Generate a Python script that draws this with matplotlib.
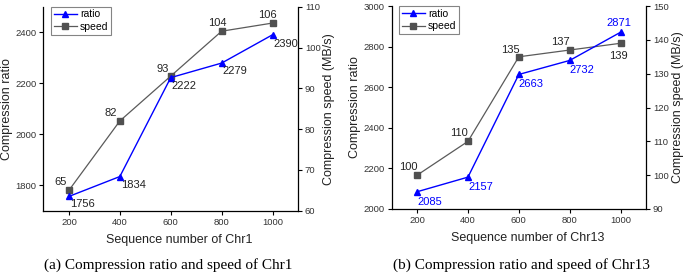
import matplotlib
matplotlib.use("Agg")
import matplotlib.pyplot as plt

plt.rcParams['font.family'] = ['Liberation Sans', 'DejaVu Sans']

x_vals = [200, 400, 600, 800, 1000]

# Panel (a) Chr1
ratio_chr1 = [1756, 1834, 2222, 2279, 2390]
speed_chr1 = [65, 82, 93, 104, 106]
# Panel (b) Chr13
ratio_chr13 = [2085, 2157, 2663, 2732, 2871]
speed_chr13 = [100, 110, 135, 137, 139]

xlabels = ["Sequence number of Chr1", "Sequence number of Chr13"]
captions = ["(a) Compression ratio and speed of Chr1",
            "(b) Compression ratio and speed of Chr13"]

BLUE = "#0000ff"
GRAY_LINE = "#5a5a5a"
GRAY_MARK = "#505050"
TXT = "#222222"

fig = plt.figure(figsize=(6.85, 2.76), dpi=100)

PX = 0.72  # points per pixel at dpi 100


def style_axes(ax, ax2):
    for a in (ax, ax2):
        a.spines['top'].set_visible(False)
        for s in a.spines.values():
            s.set_linewidth(0.9)
            s.set_color('black')
    ax.spines['right'].set_visible(False)
    ax2.spines['left'].set_visible(False)
    ax2.spines['bottom'].set_visible(False)
    ax.tick_params(axis='both', direction='out', length=3, width=0.8,
                   labelsize=6.8, pad=2, colors='black', labelcolor='#333333')
    ax2.tick_params(axis='y', direction='out', length=3, width=0.8,
                    labelsize=6.8, pad=2, colors='black', labelcolor='#333333')


def panel(rect, ratio, speed, rlim, rticks, slim, sticks, xlabel,
          ratio_offs, speed_offs, ratio_color, speed_color):
    ax = fig.add_axes(rect)
    ax2 = ax.twinx()
    ax.set_zorder(ax2.get_zorder() + 1)
    ax.patch.set_visible(False)
    l2, = ax2.plot(x_vals, speed, color=GRAY_LINE, lw=0.9, marker='s',
                   ms=4, mfc=GRAY_MARK, mec=GRAY_MARK, label='speed')
    l1, = ax.plot(x_vals, ratio, color=BLUE, lw=1.0, marker='^',
                  ms=5, mfc=BLUE, mec=BLUE, label='ratio')
    ax.set_xlim(100, 1100)
    ax.set_xticks(x_vals)
    ax.set_ylim(*rlim)
    ax.set_yticks(rticks)
    ax2.set_ylim(*slim)
    ax2.set_yticks(sticks)
    ax.set_xlabel(xlabel, fontsize=9, labelpad=5, color='#222222')
    ax.xaxis.label.set_x(0.535)
    ax.set_ylabel("Compression ratio", fontsize=9, labelpad=2, color='#222222')
    ax2.set_ylabel("Compression speed (MB/s)", fontsize=9, labelpad=2,
                   color='#222222')
    style_axes(ax, ax2)
    for xv, yv, (dx, dy, ha) in zip(x_vals, ratio, ratio_offs):
        ax.annotate(str(yv), (xv, yv), xytext=(dx * PX, dy * PX),
                    textcoords='offset points', ha=ha, va='center',
                    fontsize=8, color=ratio_color)
    for xv, yv, (dx, dy, ha) in zip(x_vals, speed, speed_offs):
        ax2.annotate(str(yv), (xv, yv), xytext=(dx * PX, dy * PX),
                     textcoords='offset points', ha=ha, va='center',
                     fontsize=8, color=speed_color)
    leg = ax.legend([l1, l2], ['ratio', 'speed'], loc='upper left',
                    bbox_to_anchor=(0.03, 1.0), fontsize=7.5, frameon=True,
                    fancybox=False, handlelength=2.2, handletextpad=0.3,
                    borderpad=0.25, labelspacing=0.25, borderaxespad=0.0)
    leg.get_frame().set_edgecolor('#666666')
    leg.get_frame().set_linewidth(0.8)
    return ax, ax2


# offsets in pixels (dx, dy, ha)
ratio_offs_a = [(1, -8, 'left'), (1, -8, 'left'), (1, -8, 'left'),
                (1, -8, 'left'), (1, -9, 'left')]
speed_offs_a = [(-2, 8, 'right'), (-3, 8, 'right'), (-2, 7, 'right'),
                (-4, 8, 'center'), (-5, 8, 'center')]
ratio_offs_b = [(0, -10, 'left'), (0, -10, 'left'), (0, -10, 'left'),
                (0, -10, 'left'), (-2, 9, 'center')]
speed_offs_b = [(0, 8, 'right'), (0, 8, 'right'), (-8, 7, 'center'),
                (0, 8, 'right'), (-2, -13, 'center')]

panel([0.0635, 0.2366, 0.3715, 0.739], ratio_chr1, speed_chr1,
      (1700, 2500), [1800, 2000, 2200, 2400], (60, 110),
      [60, 70, 80, 90, 100, 110], xlabels[0],
      ratio_offs_a, speed_offs_a, TXT, TXT)
panel([0.5718, 0.2428, 0.3712, 0.7352], ratio_chr13, speed_chr13,
      (2000, 3000), [2000, 2200, 2400, 2600, 2800, 3000], (90, 150),
      [90, 100, 110, 120, 130, 140, 150], xlabels[1],
      ratio_offs_b, speed_offs_b, BLUE, TXT)

fig.text(168 / 685, 1 - 265 / 276, captions[0], ha='center', va='center',
         fontsize=11, family=['Liberation Serif', 'DejaVu Serif'])
fig.text(521.7 / 685, 1 - 265 / 276, captions[1], ha='center', va='center',
         fontsize=11, family=['Liberation Serif', 'DejaVu Serif'])

fig.savefig("out.png", dpi=100)
